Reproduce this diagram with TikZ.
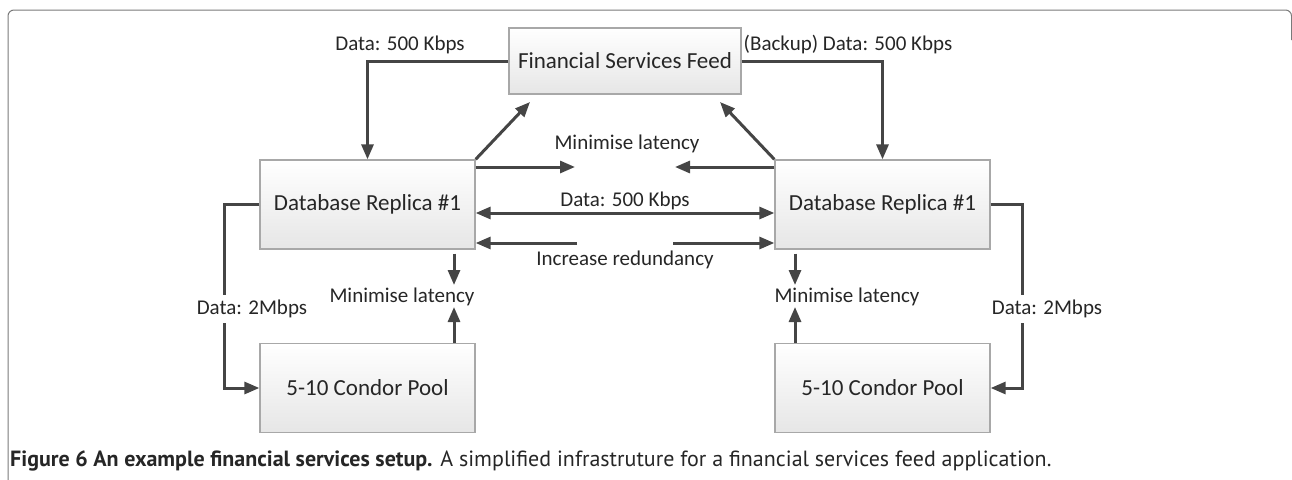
\documentclass[tikz,border=0pt]{standalone}
\usepackage{fontspec}
\setmainfont{Carlito}
\newfontfamily\capfont{PT Sans}
\usepackage{xcolor}
\usepackage{tikz}
\usetikzlibrary{arrows.meta}
\definecolor{arrowgray}{HTML}{454545}
\definecolor{boxline}{HTML}{A8A8A8}
\definecolor{boxfill}{HTML}{E6E6E6}
\definecolor{framegray}{HTML}{7A7A7A}
\definecolor{textgray}{HTML}{262626}

\begin{document}
\begin{tikzpicture}[x=1pt, y=-1pt,
    block/.style={draw=boxline, line width=1.3pt, top color=white, bottom color=boxfill,
      minimum width=215pt, minimum height=89pt, inner sep=0pt, text=textgray,
      font=\fontsize{23}{26}\selectfont},
    link/.style={draw=arrowgray, line width=3pt, -{Triangle[length=15pt,width=12pt]}},
    both/.style={link, {Triangle[length=15pt,width=12pt]}-{Triangle[length=15pt,width=12pt]}},
    lbl/.style={inner sep=1pt, text=textgray, font=\fontsize{21}{24}\selectfont}]
      \useasboundingbox (0,0) rectangle (1292,479);
      \draw[framegray, line width=1pt, rounded corners=6pt] (8,480) -- (8,10) -- (1291.5,10) -- (1291.5,40);

      \node[block, minimum width=232pt, minimum height=66pt] (feed) at (625,61) {Financial Services Feed};
      \node[block] (dbL) at (367.5,204.5) {Database Replica \#1};
      \node[block] (dbR) at (882.5,204.5) {Database Replica \#1};
      \node[block] (poolL) at (367.5,388) {5-10 Condor Pool};
      \node[block] (poolR) at (882.5,388) {5-10 Condor Pool};

      \coordinate (tipL) at (530,102);
      \coordinate (tipR) at (720,102);
      \coordinate (latL) at (575,167);
      \coordinate (latR) at (675,167);
      \coordinate (redL) at (577,243);
      \coordinate (redR) at (673,243);
      \coordinate (downL) at (454,285);
      \coordinate (upL) at (454,307);
      \coordinate (downR) at (795,285);
      \coordinate (upR) at (795,307);

      \draw[link] (feed.west) -| (dbL.north);
      \draw[link] (feed.east) -| (dbR.north);
      \draw[link] (dbL.north east) -- (tipL);
      \draw[link] (dbR.north west) -- (tipR);
      \draw[link] (dbL.east |- latL) -- (latL);
      \draw[link] (dbR.west |- latR) -- (latR);
      \draw[both] ([yshift=-8.5pt]dbL.east) -- ([yshift=-8.5pt]dbR.west);
      \draw[link] (redL) -- (dbL.east |- redL);
      \draw[link] (redR) -- (dbR.west |- redR);
      \draw[link] ([yshift=-4pt]dbL.south -| downL) -- (downL);
      \draw[link] (poolL.north -| upL) -- (upL);
      \draw[link] ([yshift=-4pt]dbR.south -| downR) -- (downR);
      \draw[link] (poolR.north -| upR) -- (upR);
      \draw[link] (dbL.west) -- ([xshift=-35pt]dbL.west) |- (poolL.west);
      \draw[link] (dbR.east) -- ([xshift=32pt]dbR.east) |- (poolR.east);

      \node[lbl] (feedrate) at (400,45) {Data: 500 Kbps};
      \node[lbl] (backuprate) at (848,45) {(Backup) Data: 500 Kbps};
      \node[lbl] (lattop) at (627,144) {Minimise latency};
      \node[lbl] (datarate) at (625,201) {Data: 500 Kbps};
      \node[lbl] (redundancy) at (625,260) {Increase redundancy};
      \node[lbl] (latnoteL) at (402,297) {Minimise latency};
      \node[lbl] (latnoteR) at (847,297) {Minimise latency};
      \node[lbl, fill=white, inner ysep=5pt] (rateL) at (252,309) {Data: 2Mbps};
      \node[lbl, fill=white, inner ysep=5pt] (rateR) at (1047,309) {Data: 2Mbps};

      \node[anchor=base west, inner sep=0pt, text=textgray, font=\capfont\fontsize{22}{25}\selectfont] (caption) at (10,466)
        {\textbf{Figure 6 An example financial services setup.} A simplified infrastruture for a financial services feed application.};
    \end{tikzpicture}
\end{document}
